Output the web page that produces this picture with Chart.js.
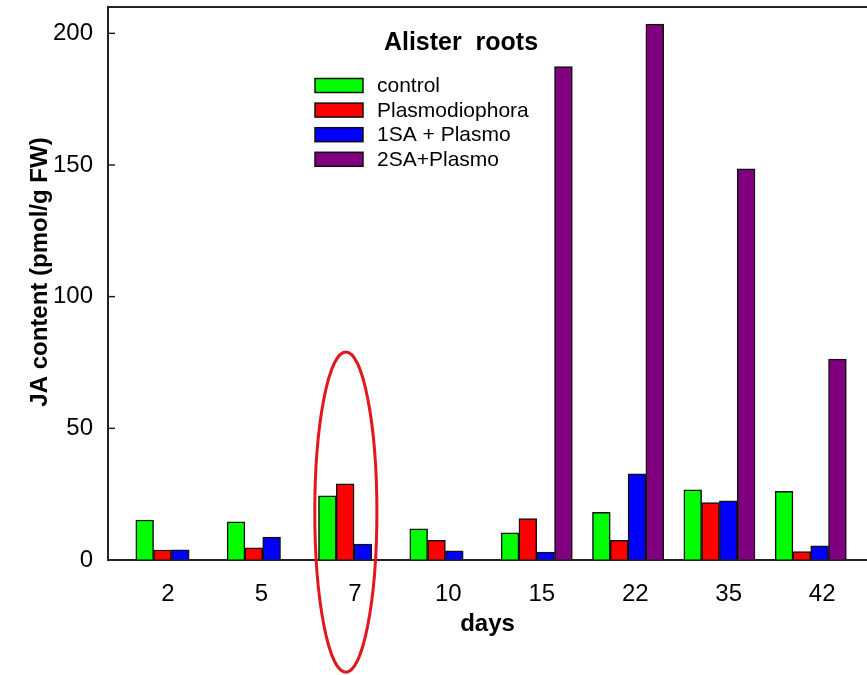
<!DOCTYPE html>
<html>
<head>
<meta charset="utf-8">
<script src="https://cdn.jsdelivr.net/npm/chart.js@4"></script>
<style>
  html, body { margin: 0; padding: 0; background: #fff; }
  #wrap { width: 867px; height: 675px; position: relative; }
</style>
</head>
<body>
<div id="wrap"><canvas id="c" width="867" height="675"></canvas></div>
<script>
// ---- data ----
const days = ['2', '5', '7', '10', '15', '22', '35', '42'];
const control = [15.2, 14.5, 24.4, 11.8, 10.3, 18.1, 26.6, 26.1];
const plasmodiophora = [3.8, 4.6, 28.9, 7.5, 15.7, 7.5, 21.8, 3.2];
const sa1Plasmo = [3.9, 8.7, 6.0, 3.5, 3.0, 32.7, 22.5, 5.4];
const sa2Plasmo = [null, null, null, null, 187.4, 203.5, 148.5, 76.3];
const seriesNames = ['control', 'Plasmodiophora', '1SA + Plasmo', '2SA+Plasmo'];
const yTicks = [0, 50, 100, 150, 200];
const chartTitle = 'Alister  roots';
const yTitle = 'JA content (pmol/g FW)';
const xTitle = 'days';

const FONT = '"Liberation Sans", Arial, Helvetica, sans-serif';
const colors = ['#00ff00', '#ff0000', '#0000ff', '#800080'];
const toPts = arr => arr.map((v, i) => ({ x: i, y: v }));
const seriesData = [control, plasmodiophora, sa1Plasmo, sa2Plasmo];

const datasets = seriesData.map((arr, k) => ({
  label: seriesNames[k],
  data: toPts(arr),
  backgroundColor: colors[k],
  borderColor: '#111',
  borderWidth: 1.5,
  barThickness: 17.8,
  xAxisID: 'x',
  yAxisID: 'y'
}));

const integerTicks = scale => { scale.ticks = days.map((_, i) => ({ value: i })); };

const decorPlugin = {
  id: 'decor',
  afterDraw(chart) {
    const { ctx, chartArea: a, scales } = chart;
    const y = scales.y, x = scales.x;
    ctx.save();
    // top frame line
    ctx.strokeStyle = '#222';
    ctx.lineWidth = 2;
    ctx.beginPath();
    ctx.moveTo(a.left - 1, a.top);
    ctx.lineTo(a.right, a.top);
    ctx.stroke();
    // inward tick marks on y axis
    ctx.lineWidth = 1.5;
    y.ticks.forEach(t => {
      const py = y.getPixelForValue(t.value);
      ctx.beginPath();
      ctx.moveTo(a.left, py);
      ctx.lineTo(a.left + 7, py);
      ctx.stroke();
    });
    // y axis title
    ctx.fillStyle = '#000';
    ctx.font = 'bold 24px ' + FONT;
    ctx.textAlign = 'center';
    ctx.textBaseline = 'middle';
    ctx.translate(40, 272);
    ctx.rotate(-Math.PI / 2);
    ctx.fillText(yTitle, 0, 0);
    ctx.restore();

    // legend with title
    ctx.save();
    ctx.fillStyle = '#000';
    ctx.font = 'bold 25px ' + FONT;
    ctx.textAlign = 'center';
    ctx.textBaseline = 'middle';
    ctx.fillText(chartTitle, 461, 43);
    ctx.font = '21px ' + FONT;
    ctx.textAlign = 'left';
    chart.data.datasets.forEach((ds, i) => {
      const cy = 85.5 + i * 24.6;
      ctx.fillStyle = ds.backgroundColor;
      ctx.fillRect(315, cy - 7, 48, 14);
      ctx.strokeStyle = '#111';
      ctx.lineWidth = 1.5;
      ctx.strokeRect(315, cy - 7, 48, 14);
      ctx.fillStyle = '#000';
      ctx.fillText(ds.label, 377, cy + 1);
    });
    ctx.restore();

    // red ellipse highlighting day 7
    ctx.save();
    const cx = x.getPixelForValue(1.91);
    const cyE = y.getPixelForValue(18.2);
    const rx = x.getPixelForValue(2.25) - cx;
    const ry = cyE - y.getPixelForValue(79);
    ctx.strokeStyle = '#e3161c';
    ctx.lineWidth = 3;
    ctx.beginPath();
    ctx.ellipse(cx, cyE, rx, ry, 0, 0, Math.PI * 2);
    ctx.stroke();
    ctx.restore();
  }
};

new Chart(document.getElementById('c'), {
  type: 'bar',
  data: { datasets },
  options: {
    responsive: false,
    animation: false,
    devicePixelRatio: 1,
    layout: { padding: { top: 7, right: 0, bottom: 0, left: 0 } },
    plugins: { legend: { display: false }, title: { display: false }, tooltip: { enabled: false } },
    scales: {
      x: {
        type: 'linear',
        display: false,
        offset: false,
        min: -0.694,
        max: 7.616,
        afterBuildTicks: integerTicks
      },
      xt: {
        type: 'linear',
        position: 'bottom',
        offset: false,
        min: -0.642,
        max: 7.48,
        afterBuildTicks: integerTicks,
        afterFit: s => { s.height = 115; s.paddingLeft = 0; s.paddingRight = 0; },
        grid: { drawOnChartArea: false, drawTicks: false },
        border: { display: true, color: '#222', width: 2 },
        ticks: {
          padding: 20,
          color: '#000',
          font: { family: FONT, size: 24 },
          autoSkip: false,
          maxRotation: 0,
          callback: v => days[v]
        },
        title: {
          display: true,
          text: xTitle,
          color: '#000',
          font: { family: FONT, size: 24, weight: 'bold' },
          padding: { top: 0, bottom: 36 }
        }
      },
      y: {
        type: 'linear',
        position: 'left',
        min: 0,
        max: 210,
        afterBuildTicks: s => { s.ticks = yTicks.map(v => ({ value: v })); },
        afterFit: s => { s.width = 108; s.paddingTop = 0; s.paddingBottom = 0; },
        grid: { drawOnChartArea: false, drawTicks: false },
        border: { display: true, color: '#222', width: 2 },
        ticks: {
          padding: 15,
          color: '#000',
          font: { family: FONT, size: 24 }
        }
      }
    }
  },
  plugins: [decorPlugin]
});
</script>
</body>
</html>
